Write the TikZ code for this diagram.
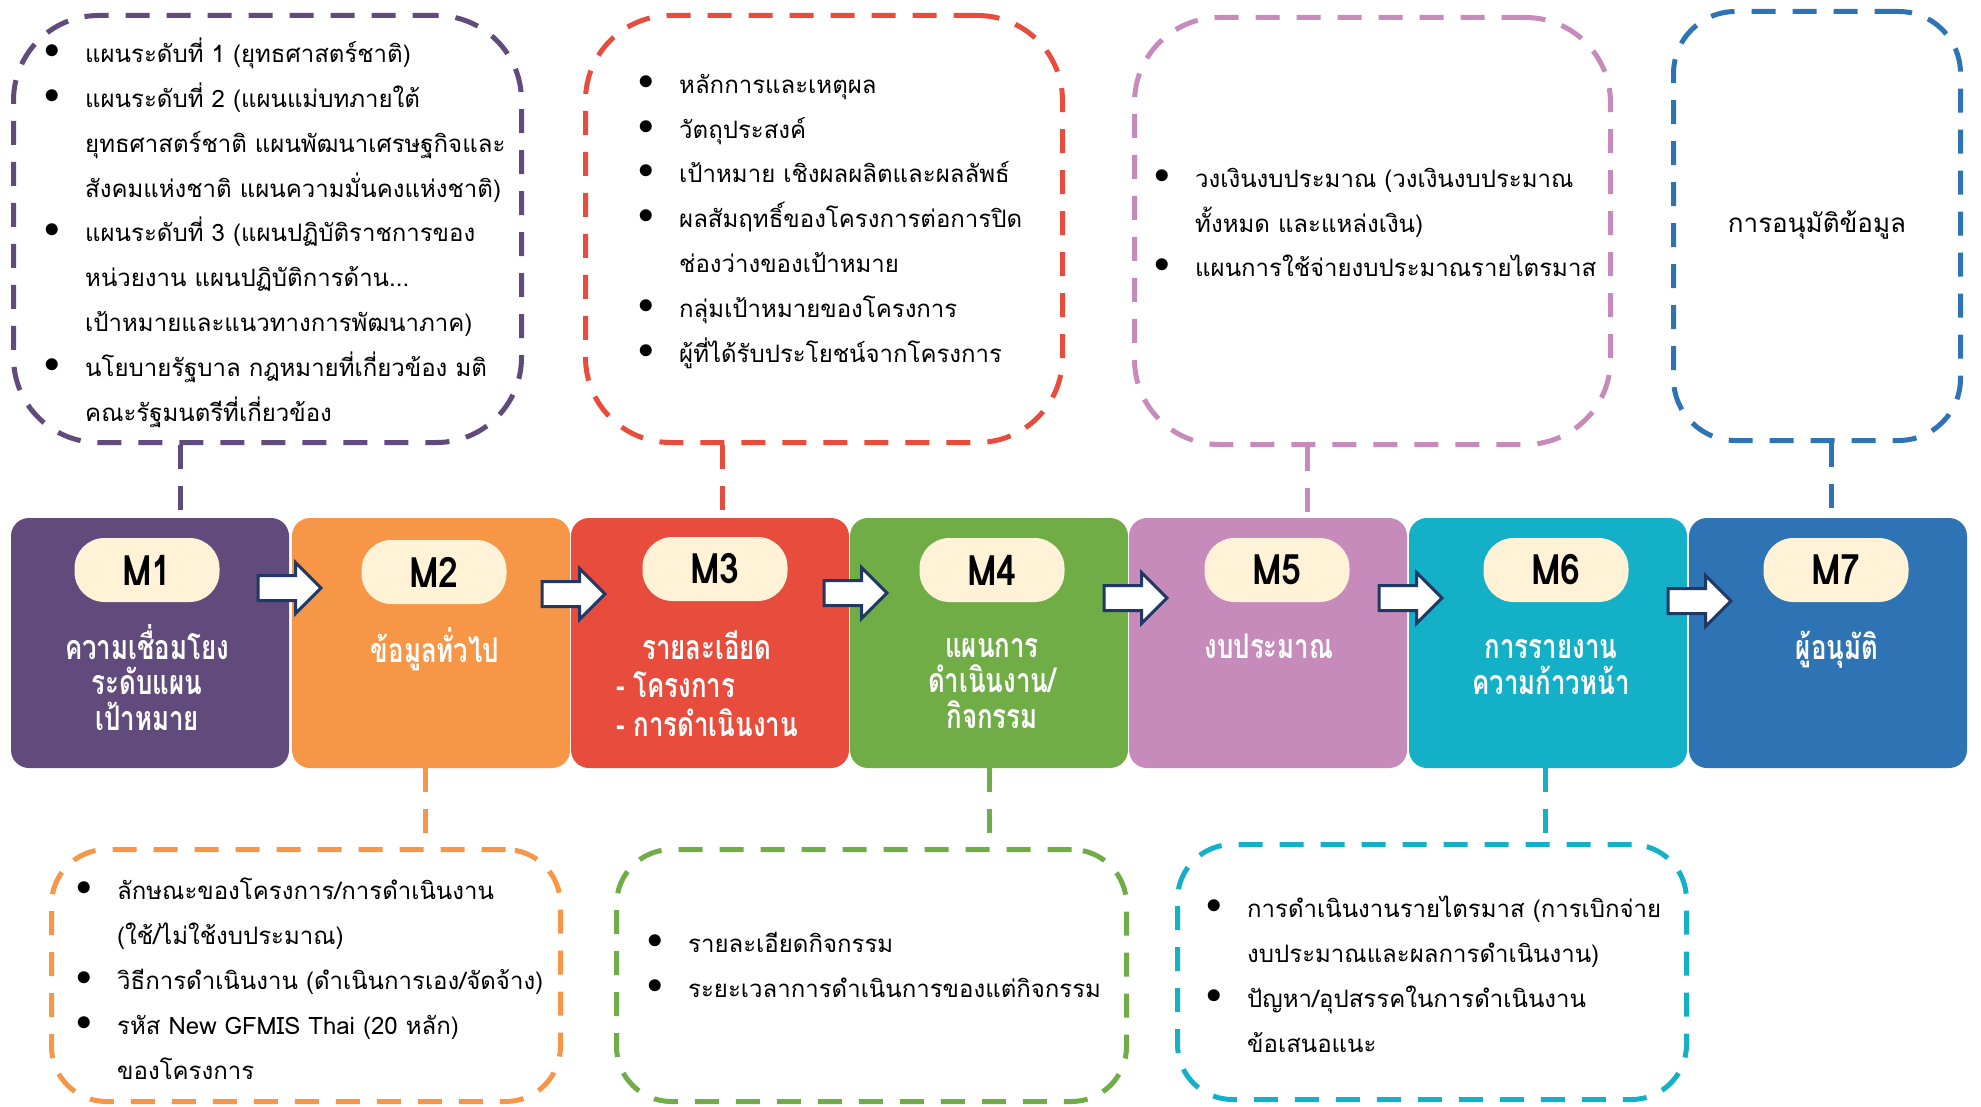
\documentclass[tikz,border=0pt]{standalone}
\usepackage{fontspec}
\setmainfont[Script=Thai]{Loma}
\newfontfamily\stagefont[Script=Thai, FakeStretch=0.76]{Loma}
\newfontfamily\tagfont[FakeStretch=0.85]{Loma}
\usepackage{calc}
\usepackage{tikz}
\usetikzlibrary{shapes.arrows}

\definecolor{mpurple}{HTML}{604B7C}
\definecolor{morange}{HTML}{F79646}
\definecolor{mred}{HTML}{E74C3C}
\definecolor{mgreen}{HTML}{70AD47}
\definecolor{mpink}{HTML}{C68BBB}
\definecolor{mcyan}{HTML}{13B0C7}
\definecolor{mblue}{HTML}{2E74B5}
\definecolor{cream}{HTML}{FFF2D6}
\definecolor{navy}{HTML}{1F3864}

\newcommand{\dotitem}{\makebox[39pt][l]{\hspace*{-1.5pt}\raisebox{4pt}{\scalebox{1.25}{$\bullet$}}}}
\newcommand{\contline}{\hspace*{39pt}}

\begin{document}
\begin{tikzpicture}[x=1pt, y=-1pt, every node/.style={font=\fontsize{24}{44.8}\selectfont}]
    % Define styles
    \tikzstyle{stage} = [rectangle, rounded corners=18, minimum width=278, minimum height=250, inner sep=0]
    \tikzstyle{tag} = [rectangle, rounded corners=30, minimum width=145, minimum height=64, inner sep=0, fill=cream, font=\tagfont\fontsize{42}{44}\selectfont\bfseries]
    \tikzstyle{stagetext} = [anchor=base, align=center, inner sep=0, text=white, font=\stagefont\fontsize{34}{35.5}\selectfont\bfseries]
    \tikzstyle{callout} = [rectangle, draw, line width=5, dash pattern=on 24 off 17, rounded corners=85, inner sep=0]
    \tikzstyle{items} = [anchor=base west, align=left, inner sep=0]
    \tikzstyle{link} = [line width=5, dash pattern=on 24 off 17]
    \tikzstyle{blockarrow} = [single arrow, anchor=tail, draw=navy, fill=white, line width=3, minimum height=63, minimum width=0, single arrow head extend=13, single arrow head indent=0, inner sep=0, text height=22, text depth=0]

    \useasboundingbox (0,0) rectangle (1981,1107);

    % Stages
    \node (m1) [stage, fill=mpurple] at (150, 643) {};
    \node (m2) [stage, fill=morange] at (431, 643) {};
    \node (m3) [stage, fill=mred] at (710, 643) {};
    \node (m4) [stage, fill=mgreen] at (989, 643) {};
    \node (m5) [stage, fill=mpink] at (1268, 643) {};
    \node (m6) [stage, fill=mcyan] at (1548, 643) {};
    \node (m7) [stage, fill=mblue] at (1828, 643) {};

    % Stage tags
    \node (t1) [tag] at (147, 570) {M1};
    \node (t2) [tag] at (434, 572) {M2};
    \node (t3) [tag] at (715, 569) {M3};
    \node (t4) [tag] at (992, 570) {M4};
    \node (t5) [tag] at (1277, 570) {M5};
    \node (t6) [tag] at (1556, 570) {M6};
    \node (t7) [tag] at (1836, 570) {M7};

    % Stage titles (anchored at the last line)
    \node (s1) [stagetext] at (147, 730) {ความเชื่อมโยง\\ระดับแผน\\เป้าหมาย};
    \node (s2) [stagetext] at (435, 662) {ข้อมูลทั่วไป};
    \node (s3) [stagetext, font=\stagefont\fontsize{34}{38.5}\selectfont\bfseries] at (707, 736) {รายละเอียด\\\makebox[\widthof{- การดำเนินงาน}][l]{- โครงการ}\\- การดำเนินงาน};
    \node (s4) [stagetext] at (992, 728) {แผนการ\\ดำเนินงาน/\\กิจกรรม};
    \node (s5) [stagetext] at (1269, 658) {งบประมาณ};
    \node (s6) [stagetext] at (1551, 694) {การรายงาน\\ความก้าวหน้า};
    \node (s7) [stagetext] at (1837, 659) {ผู้อนุมัติ};

    % Arrows between stages
    \node (a12) [blockarrow] at (256.5, 588) {};
    \node (a23) [blockarrow] at (540.5, 594) {};
    \node (a34) [blockarrow] at (822.5, 593) {};
    \node (a45) [blockarrow] at (1102.5, 598) {};
    \node (a56) [blockarrow] at (1377.5, 598) {};
    \node (a67) [blockarrow] at (1666.5, 601) {};

    % Top callouts
    \node (plan_box) [callout, draw=mpurple, minimum width=508, minimum height=427] at (267.5, 229) {};
    \node (detail_box) [callout, draw=mred, minimum width=477, minimum height=427] at (824, 229) {};
    \node (budget_box) [callout, draw=mpink, minimum width=476, minimum height=427] at (1372.5, 231) {};
    \node (approve_box) [callout, draw=mblue, rounded corners=62, minimum width=287, minimum height=429] at (1817, 226) {};

    % Bottom callouts
    \node (general_box) [callout, draw=morange, rounded corners=55, minimum width=509, minimum height=252] at (306, 975.5) {};
    \node (activity_box) [callout, draw=mgreen, rounded corners=55, minimum width=510, minimum height=252] at (871.5, 975.5) {};
    \node (report_box) [callout, draw=mcyan, rounded corners=55, minimum width=509, minimum height=255] at (1432, 972) {};

    % Callout texts (anchored at the last line)
    \node (plan_text) [items] at (46, 421) {\dotitem แผนระดับที่ 1 (ยุทธศาสตร์ชาติ)\\
        \dotitem แผนระดับที่ 2 (แผนแม่บทภายใต้\\
        \contline ยุทธศาสตร์ชาติ แผนพัฒนาเศรษฐกิจและ\\
        \contline สังคมแห่งชาติ แผนความมั่นคงแห่งชาติ)\\
        \dotitem แผนระดับที่ 3 (แผนปฏิบัติราชการของ\\
        \contline หน่วยงาน แผนปฏิบัติการด้าน...\\
        \contline เป้าหมายและแนวทางการพัฒนาภาค)\\
        \dotitem นโยบายรัฐบาล กฎหมายที่เกี่ยวข้อง มติ\\
        \contline คณะรัฐมนตรีที่เกี่ยวข้อง};
    \node (detail_text) [items] at (640, 362) {\dotitem หลักการและเหตุผล\\
        \dotitem วัตถุประสงค์\\
        \dotitem เป้าหมาย เชิงผลผลิตและผลลัพธ์\\
        \dotitem ผลสัมฤทธิ์ของโครงการต่อการปิด\\
        \contline ช่องว่างของเป้าหมาย\\
        \dotitem กลุ่มเป้าหมายของโครงการ\\
        \dotitem ผู้ที่ได้รับประโยชน์จากโครงการ};
    \node (budget_text) [items] at (1156, 277) {\dotitem วงเงินงบประมาณ (วงเงินงบประมาณ\\
        \contline ทั้งหมด และแหล่งเงิน)\\
        \dotitem แผนการใช้จ่ายงบประมาณรายไตรมาส};
    \node (approve_text) [anchor=base, inner sep=0, font=\fontsize{26}{30}\selectfont] at (1817, 233) {การอนุมัติข้อมูล};
    \node (general_text) [items] at (78, 1079) {\dotitem ลักษณะของโครงการ/การดำเนินงาน\\
        \contline (ใช้/ไม่ใช้งบประมาณ)\\
        \dotitem วิธีการดำเนินงาน (ดำเนินการเอง/จัดจ้าง)\\
        \dotitem รหัส New GFMIS Thai (20 หลัก)\\
        \contline ของโครงการ};
    \node (activity_text) [items] at (649, 997) {\dotitem รายละเอียดกิจกรรม\\
        \dotitem ระยะเวลาการดำเนินการของแต่กิจกรรม};
    \node (report_text) [items] at (1208, 1052) {\dotitem การดำเนินงานรายไตรมาส (การเบิกจ่าย\\
        \contline งบประมาณและผลการดำเนินงาน)\\
        \dotitem ปัญหา/อุปสรรคในการดำเนินงาน\\
        \contline ข้อเสนอแนะ};

    % Dashed links
    \draw [link, draw=mpurple] (plan_box.south -| 180,0) -- (m1.north -| 180,0);
    \draw [link, draw=mred] (detail_box.south -| 722,0) -- (m3.north -| 722,0);
    \draw [link, draw=mpink] (budget_box.south -| 1307,0) -- (m5.north -| 1307,0);
    \draw [link, draw=mblue] (approve_box.south -| 1831,0) -- (m7.north -| 1831,0);
    \draw [link, draw=morange] (m2.south -| 425,0) -- (general_box.north -| 425,0);
    \draw [link, draw=mgreen] (m4.south -| 989,0) -- (activity_box.north -| 989,0);
    \draw [link, draw=mcyan] (m6.south -| 1545,0) -- (report_box.north -| 1545,0);
\end{tikzpicture}
\end{document}
